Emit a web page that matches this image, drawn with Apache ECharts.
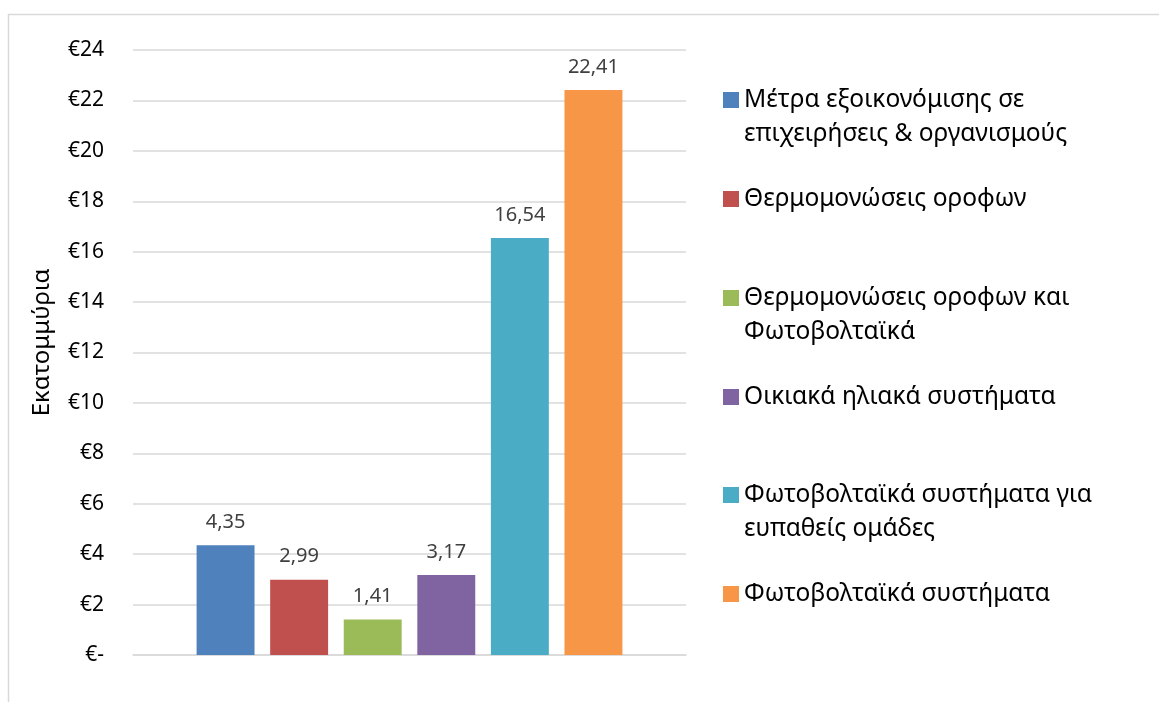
<!DOCTYPE html>
<html>
<head>
<meta charset="utf-8">
<script src="https://cdn.jsdelivr.net/npm/echarts@6/dist/echarts.min.js"></script>
<style>
  html, body { margin: 0; padding: 0; background: #fff; }
  #chart { width: 1159px; height: 702px; }
</style>
</head>
<body>
<div id="chart"></div>
<script>
// Programme names (legend) with their wrapped display form
const seriesNames = [
  'Μέτρα εξοικονόμισης σε επιχειρήσεις & οργανισμούς',
  'Θερμομονώσεις οροφων',
  'Θερμομονώσεις οροφων και Φωτοβολταϊκά',
  'Οικιακά ηλιακά συστήματα',
  'Φωτοβολταϊκά συστήματα για ευπαθείς ομάδες',
  'Φωτοβολταϊκά συστήματα'
];
const legendLines = [
  ['Μέτρα εξοικονόμισης σε', 'επιχειρήσεις & οργανισμούς'],
  ['Θερμομονώσεις οροφων'],
  ['Θερμομονώσεις οροφων και', 'Φωτοβολταϊκά'],
  ['Οικιακά ηλιακά συστήματα'],
  ['Φωτοβολταϊκά συστήματα για', 'ευπαθείς ομάδες'],
  ['Φωτοβολταϊκά συστήματα']
];
// Budget per programme, million euro
const values = [4.35, 2.99, 1.41, 3.17, 16.54, 22.41];
const colors = ['#4f81bd', '#c0504d', '#9bbb59', '#8064a2', '#4bacc6', '#f79646'];
const categories = [''];
const yTicks = { min: 0, max: 24, interval: 2 };
const yAxisTitle = 'Εκατομμύρια';

const FONT = '"Noto Sans", "Open Sans", sans-serif';
const LINE_H = 34;
// vertical centre of each legend entry's first line
const legendCenters = [100, 199, 298, 397, 495, 594];

const chart = echarts.init(document.getElementById('chart'), null, { renderer: 'canvas' });

const series = seriesNames.map((name, i) => ({
  name: name,
  type: 'bar',
  data: [values[i]],
  barGap: '27%',
  barCategoryGap: '23%',
  itemStyle: { color: colors[i] },
  label: {
    show: true,
    position: 'top',
    distance: 13,
    fontFamily: FONT,
    fontSize: 20,
    color: '#404040',
    formatter: p => p.value.toFixed(2).replace('.', ',')
  }
}));

// One legend per entry; wrapped entries get a blank leading line so the
// marker sits beside the first line of text.
const legends = seriesNames.map((name, i) => {
  const lines = legendLines[i];
  const shown = lines.length > 1 ? [' '].concat(lines) : lines;
  const half = (shown.length * LINE_H) / 2;
  return {
    left: 723,
    top: legendCenters[i] - half,
    padding: 0,
    orient: 'vertical',
    icon: 'rect',
    itemWidth: 16,
    itemHeight: 16,
    itemGap: 0,
    data: [name],
    formatter: () => shown.join('\n'),
    textStyle: {
      fontFamily: FONT,
      fontSize: 24.5,
      lineHeight: LINE_H,
      color: '#000'
    }
  };
});

chart.setOption({
  animation: false,
  backgroundColor: '#fff',
  graphic: [{
    type: 'rect',
    shape: { x: 8.5, y: 14.5, width: 1200, height: 800 },
    style: { fill: 'none', stroke: '#d9d9d9', lineWidth: 1.5 },
    silent: true
  }],
  grid: { left: 133, right: 473, top: 50, bottom: 47 },
  legend: legends,
  xAxis: {
    type: 'category',
    data: categories,
    axisTick: { show: false },
    axisLabel: { show: false },
    axisLine: { lineStyle: { color: '#d9d9d9', width: 1.5 } }
  },
  yAxis: {
    type: 'value',
    min: yTicks.min,
    max: yTicks.max,
    interval: yTicks.interval,
    name: yAxisTitle,
    nameLocation: 'middle',
    nameRotate: 90,
    nameGap: 79,
    nameTextStyle: { fontFamily: FONT, fontSize: 24, color: '#000', padding: [0, 0, 0, 20] },
    axisLine: { show: false },
    axisTick: { show: false },
    axisLabel: {
      fontFamily: FONT,
      fontSize: 21,
      color: '#000',
      margin: 29,
      formatter: v => v === 0 ? '€-' : '€' + v
    },
    splitLine: { lineStyle: { color: '#d9d9d9', width: 1.5 } }
  },
  series: series
});
</script>
</body>
</html>
